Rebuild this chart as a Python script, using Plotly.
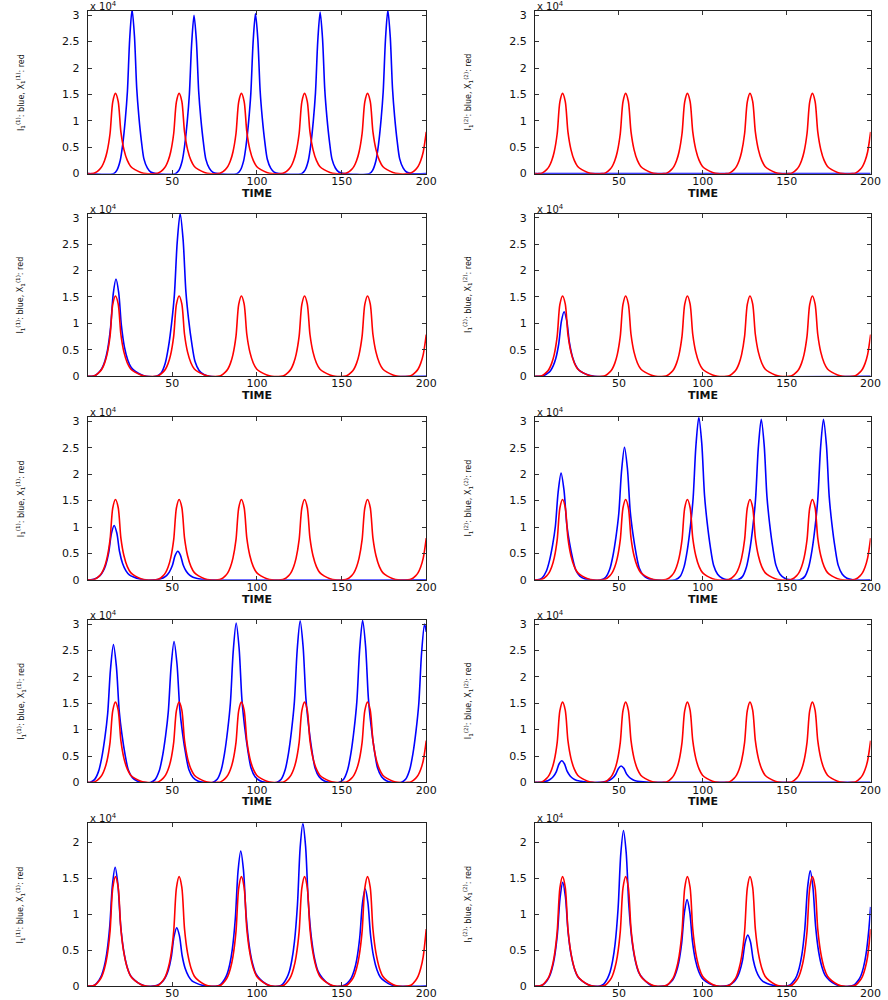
import plotly.graph_objects as go
from plotly.subplots import make_subplots

# tick positions / labels (y values are plotted raw, labelled in units of 10^4)
X_TICKS = [50, 100, 150, 200]
Y_TICKS = [0, 5000, 10000, 15000, 20000, 25000, 30000]
Y_TICK_TEXT = ['0', '0.5', '1', '1.5', '2', '2.5', '3']
Y_TOP = [30800, 30800, 30800, 30800, 22600]   # top of y axis, one per row
PANEL_INDEX = ['(1)', '(2)']                   # left column, right column

# X_1 (red) - the same in every panel
red_t = [0,
         2.4, 4.4, 6.9, 8.4, 9.9, 11.4, 13.2, 14.8, 16.4, 18.0, 19.6, 21.4, 23.4, 25.4, 27.9,
         31.4, 34.4,
         40.0, 42.0, 44.5, 46.0, 47.5, 49.0, 50.8, 52.4, 54.0, 55.6, 57.2, 59.0, 61.0, 63.0,
         65.5, 69.0, 72.0,
         76.8, 78.8, 81.3, 82.8, 84.3, 85.8, 87.6, 89.2, 90.8, 92.4, 94.0, 95.8, 97.8, 99.8,
         102.3, 105.8, 108.8,
         114.1, 116.1, 118.6, 120.1, 121.6, 123.1, 124.9, 126.5, 128.1, 129.7, 131.3, 133.1,
         135.1, 137.1, 139.6, 143.1, 146.1,
         151.3, 153.3, 155.8, 157.3, 158.8, 160.3, 162.1, 163.7, 165.3, 166.9, 168.5, 170.3,
         172.3, 174.3, 176.8, 180.3, 183.3,
         189.2, 191.2, 193.7, 195.2, 196.7, 198.2, 200.0]
red_y = [0,
         0, 150, 760, 1370, 2430, 4100, 7600, 13600, 15200, 13700, 7900, 4560, 2510, 1370, 760,
         230, 0,
         0, 150, 760, 1370, 2430, 4100, 7600, 13600, 15200, 13700, 7900, 4560, 2510, 1370, 760,
         230, 0,
         0, 150, 760, 1370, 2430, 4100, 7600, 13600, 15200, 13700, 7900, 4560, 2510, 1370, 760,
         230, 0,
         0, 150, 760, 1370, 2430, 4100, 7600, 13600, 15200, 13700, 7900, 4560, 2510, 1370, 760,
         230, 0,
         0, 150, 760, 1370, 2430, 4100, 7600, 13600, 15200, 13700, 7900, 4560, 2510, 1370, 760,
         230, 0,
         0, 150, 760, 1370, 2430, 4100, 7900]

# I_1 (blue), one pair of lists per panel, row by row
blue1_t = [0,
           15.2, 17.2, 19.2, 20.7, 22.2, 23.45, 24.8, 26.2, 27.6, 28.95, 30.2, 31.7, 33.2, 35.2,
           37.2, 40.2,
           51.8, 53.8, 55.8, 57.3, 58.8, 60.05, 61.4, 62.8, 64.2, 65.55, 66.8, 68.3, 69.8, 71.8,
           73.8, 76.8,
           88.1, 90.1, 92.1, 93.6, 95.1, 96.35, 97.7, 99.1, 100.5, 101.85, 103.1, 104.6, 106.1,
           108.1, 110.1, 113.1,
           126.3, 128.3, 130.3, 131.8, 133.3, 134.55, 135.9, 137.3, 138.7, 140.05, 141.3, 142.8,
           144.3, 146.3, 148.3, 151.3,
           166.3, 168.3, 170.3, 171.8, 173.3, 174.55, 175.9, 177.3, 178.7, 180.05, 181.3, 182.8,
           184.3, 186.3, 188.3, 191.3,
           200.0]
blue1_y = [0,
           0, 620, 2490, 5600, 10260, 15550, 25500, 31100, 26120, 16170, 10890, 6220, 2800, 1090,
           310, 0,
           0, 600, 2400, 5400, 9900, 15000, 24600, 30000, 25200, 15600, 10500, 6000, 2700, 1050,
           300, 0,
           0, 610, 2420, 5450, 10000, 15150, 24850, 30300, 25450, 15760, 10610, 6060, 2730, 1060,
           300, 0,
           0, 610, 2450, 5510, 10100, 15300, 25090, 30600, 25700, 15910, 10710, 6120, 2750, 1070,
           310, 0,
           0, 620, 2480, 5580, 10230, 15500, 25420, 31000, 26040, 16120, 10850, 6200, 2790, 1090,
           310, 0,
           0]

blue2_t = [0, 200.0]
blue2_y = [0, 0]

blue3_t = [0,
           2.7, 4.7, 7.2, 8.7, 10.2, 11.7, 13.5, 15.1, 16.7, 18.3, 19.9, 21.7, 23.7, 25.7, 28.2,
           31.7, 34.7,
           40.6, 43.4, 45.8, 47.7, 49.6, 51.2, 52.85, 54.6, 56.35, 58.0, 59.6, 61.5, 63.4, 65.8,
           68.6, 72.1,
           200.0]
blue3_y = [0,
           0, 180, 920, 1660, 2940, 4970, 9200, 15640, 18400, 15820, 9570, 5520, 3040, 1660, 920,
           280, 0,
           0, 620, 2460, 5540, 10160, 15400, 25260, 30800, 25870, 16020, 10780, 6160, 2770, 1080,
           310, 0,
           0]

blue4_t = [0,
           3.3, 5.3, 7.8, 9.3, 10.8, 12.3, 14.1, 15.7, 17.3, 18.9, 20.5, 22.3, 24.3, 26.3, 28.8,
           32.3, 35.3,
           200.0]
blue4_y = [0,
           0, 120, 610, 1100, 1950, 3290, 6100, 10370, 12200, 10490, 6340, 3660, 2010, 1100, 610,
           180, 0,
           0]

blue5_t = [0,
           1.6, 3.6, 6.1, 7.6, 9.1, 10.6, 12.4, 14.0, 15.6, 17.2, 18.8, 20.6, 22.6, 24.6, 27.1,
           30.6, 33.6,
           39.2, 41.2, 43.7, 45.2, 46.7, 48.2, 50.0, 51.6, 53.2, 54.8, 56.4, 58.2, 60.2, 62.2,
           64.7, 68.2, 71.2,
           200.0]
blue5_y = [0,
           0, 100, 520, 930, 1650, 2780, 5150, 8760, 10300, 8860, 5360, 3090, 1700, 930, 520,
           150, 0,
           0, 50, 270, 490, 860, 1460, 2700, 4590, 5400, 4640, 2810, 1620, 890, 490, 270, 80, 0,
           0]

blue6_t = [0,
           1.5, 4.3, 6.7, 8.6, 10.5, 12.1, 13.75, 15.5, 17.25, 18.9, 20.5, 22.4, 24.3, 26.7, 29.5,
           33.0,
           39.3, 42.1, 44.5, 46.4, 48.3, 49.9, 51.55, 53.3, 55.05, 56.7, 58.3, 60.2, 62.1, 64.5,
           67.3, 70.8,
           83.6, 86.4, 88.8, 90.7, 92.6, 94.2, 95.85, 97.6, 99.35, 101.0, 102.6, 104.5, 106.4,
           108.8, 111.6, 115.1,
           120.8, 123.6, 126.0, 127.9, 129.8, 131.4, 133.05, 134.8, 136.55, 138.2, 139.8, 141.7,
           143.6, 146.0, 148.8, 152.3,
           157.9, 160.7, 163.1, 165.0, 166.9, 168.5, 170.15, 171.9, 173.65, 175.3, 176.9, 178.8,
           180.7, 183.1, 185.9, 189.4,
           200.0]
blue6_y = [0,
           0, 400, 1620, 3640, 6670, 10100, 16560, 20200, 16970, 10500, 7070, 4040, 1820, 710,
           200, 0,
           0, 500, 2010, 4520, 8280, 12550, 20580, 25100, 21080, 13050, 8790, 5020, 2260, 880,
           250, 0,
           0, 620, 2460, 5540, 10160, 15400, 25260, 30800, 25870, 16020, 10780, 6160, 2770, 1080,
           310, 0,
           0, 610, 2430, 5470, 10030, 15200, 24930, 30400, 25540, 15810, 10640, 6080, 2740, 1060,
           300, 0,
           0, 610, 2430, 5470, 10030, 15200, 24930, 30400, 25540, 15810, 10640, 6080, 2740, 1060,
           300, 0,
           0]

blue7_t = [0,
           1.2, 4.0, 6.4, 8.3, 10.2, 11.8, 13.45, 15.2, 16.95, 18.6, 20.2, 22.1, 24.0, 26.4, 29.2,
           32.7,
           37.0, 39.8, 42.2, 44.1, 46.0, 47.6, 49.25, 51.0, 52.75, 54.4, 56.0, 57.9, 59.8, 62.2,
           65.0, 68.5,
           73.7, 76.5, 78.9, 80.8, 82.7, 84.3, 85.95, 87.7, 89.45, 91.1, 92.7, 94.6, 96.5, 98.9,
           101.7, 105.2,
           111.5, 114.3, 116.7, 118.6, 120.5, 122.1, 123.75, 125.5, 127.25, 128.9, 130.5, 132.4,
           134.3, 136.7, 139.5, 143.0,
           148.4, 151.2, 153.6, 155.5, 157.4, 159.0, 160.65, 162.4, 164.15, 165.8, 167.4, 169.3,
           171.2, 173.6, 176.4, 179.9,
           185.0, 187.8, 190.2, 192.1, 194.0, 195.6, 197.25, 199.0, 200.0]
blue7_y = [0,
           0, 520, 2090, 4700, 8610, 13050, 21400, 26100, 21920, 13570, 9140, 5220, 2350, 910,
           260, 0,
           0, 530, 2140, 4810, 8810, 13350, 21890, 26700, 22430, 13880, 9350, 5340, 2400, 930,
           270, 0,
           0, 600, 2420, 5440, 9970, 15100, 24760, 30200, 25370, 15700, 10570, 6040, 2720, 1060,
           300, 0,
           0, 610, 2450, 5510, 10100, 15300, 25090, 30600, 25700, 15910, 10710, 6120, 2750, 1070,
           310, 0,
           0, 610, 2460, 5530, 10130, 15350, 25170, 30700, 25790, 15960, 10750, 6140, 2760, 1070,
           310, 0,
           0, 600, 2400, 5400, 9900, 15000, 24600, 30000, 28500]

blue8_t = [0,
           1.9, 3.9, 6.4, 7.9, 9.4, 10.9, 12.7, 14.3, 15.9, 17.5, 19.1, 20.9, 22.9, 24.9, 27.4,
           30.9, 33.9,
           37.3, 39.3, 41.8, 43.3, 44.8, 46.3, 48.1, 49.7, 51.3, 52.9, 54.5, 56.3, 58.3, 60.3,
           62.8, 66.3, 69.3,
           200.0]
blue8_y = [0,
           0, 40, 210, 370, 660, 1110, 2050, 3490, 4100, 3530, 2130, 1230, 680, 370, 210, 60, 0,
           0, 30, 160, 280, 500, 840, 1550, 2640, 3100, 2670, 1610, 930, 510, 280, 160, 50, 0,
           0]

blue9_t = [0,
           2.2, 4.2, 6.7, 8.2, 9.7, 11.2, 13.0, 14.6, 16.2, 17.8, 19.4, 21.2, 23.2, 25.2, 27.7,
           31.2, 34.2,
           38.6, 40.6, 43.1, 44.6, 46.1, 47.6, 49.4, 51.0, 52.6, 54.2, 55.8, 57.6, 59.6, 61.6,
           64.1, 67.6, 70.6,
           76.4, 78.4, 80.9, 82.4, 83.9, 85.4, 87.2, 88.8, 90.4, 92.0, 93.6, 95.4, 97.4, 99.4,
           101.9, 105.4, 108.4,
           113.1, 115.1, 117.6, 119.1, 120.6, 122.1, 123.9, 125.5, 127.1, 128.7, 130.3, 132.1,
           134.1, 136.1, 138.6, 142.1, 145.1,
           149.9, 151.9, 154.4, 155.9, 157.4, 158.9, 160.7, 162.3, 163.9, 165.5, 167.1, 168.9,
           170.9, 172.9, 175.4, 178.9, 181.9,
           200.0]
blue9_y = [0,
           0, 170, 830, 1490, 2640, 4460, 8250, 14030, 16500, 14190, 8580, 4950, 2720, 1490, 830,
           250, 0,
           0, 80, 410, 730, 1300, 2190, 4050, 6890, 8100, 6970, 4210, 2430, 1340, 730, 410, 120, 0,
           0, 190, 940, 1690, 3000, 5060, 9380, 15940, 18750, 16130, 9750, 5630, 3090, 1690, 940,
           280, 0,
           0, 230, 1130, 2030, 3620, 6100, 11300, 19210, 22600, 19440, 11750, 6780, 3730, 2030,
           1130, 340, 0,
           0, 140, 680, 1220, 2160, 3650, 6750, 11480, 13500, 11610, 7020, 4050, 2230, 1220, 680,
           200, 0,
           0]

blue10_t = [0,
            2.5, 4.5, 7.0, 8.5, 10.0, 11.5, 13.3, 14.9, 16.5, 18.1, 19.7, 21.5, 23.5, 25.5, 28.0,
            31.5, 34.5,
            38.7, 40.7, 43.2, 44.7, 46.2, 47.7, 49.5, 51.1, 52.7, 54.3, 55.9, 57.7, 59.7, 61.7,
            64.2, 67.7, 70.7,
            76.6, 78.6, 81.1, 82.6, 84.1, 85.6, 87.4, 89.0, 90.6, 92.2, 93.8, 95.6, 97.6, 99.6,
            102.1, 105.6, 108.6,
            112.8, 114.8, 117.3, 118.8, 120.3, 121.8, 123.6, 125.2, 126.8, 128.4, 130.0, 131.8,
            133.8, 135.8, 138.3, 141.8, 144.8,
            150.0, 152.0, 154.5, 156.0, 157.5, 159.0, 160.8, 162.4, 164.0, 165.6, 167.2, 169.0,
            171.0, 173.0, 175.5, 179.0, 182.0,
            188.2, 190.2, 192.7, 194.2, 195.7, 197.2, 199.0, 200.0]
blue10_y = [0,
            0, 140, 720, 1300, 2300, 3890, 7200, 12240, 14400, 12380, 7490, 4320, 2380, 1300, 720,
            220, 0,
            0, 220, 1080, 1940, 3460, 5830, 10800, 18360, 21600, 18580, 11230, 6480, 3560, 1940,
            1080, 320, 0,
            0, 120, 600, 1080, 1920, 3240, 6000, 10200, 12000, 10320, 6240, 3600, 1980, 1080, 600,
            180, 0,
            0, 70, 360, 640, 1140, 1920, 3550, 6040, 7100, 6110, 3690, 2130, 1170, 640, 360, 110, 0,
            0, 160, 800, 1440, 2560, 4320, 8000, 13600, 16000, 13760, 8320, 4800, 2640, 1440, 800,
            240, 0,
            0, 160, 800, 1440, 2560, 4320, 8000, 11000]

BLUE = [(blue1_t, blue1_y), (blue2_t, blue2_y), (blue3_t, blue3_y), (blue4_t, blue4_y),
        (blue5_t, blue5_y), (blue6_t, blue6_y), (blue7_t, blue7_y), (blue8_t, blue8_y),
        (blue9_t, blue9_y), (blue10_t, blue10_y)]

# where the ten boxes sit on the page
X_DOMAINS = [[0.0999, 0.4855], [0.6094, 0.9916]]
Y_DOMAINS = [[0.8268, 0.9909], [0.6224, 0.7865], [0.4169, 0.5811], [0.2125, 0.3766],
             [0.0070, 0.1712]]

FONT = 'DejaVu Sans'
LINE = dict(width=1.6, shape='spline', smoothing=0.8)

fig = make_subplots(rows=5, cols=2)

for k, (bt, by) in enumerate(BLUE):
    row, col = k // 2 + 1, k % 2 + 1
    fig.add_trace(go.Scatter(x=bt, y=by, mode='lines', showlegend=False,
                             line=dict(color='#0000ff', **LINE)),
                  row=row, col=col)
    fig.add_trace(go.Scatter(x=red_t, y=red_y, mode='lines', showlegend=False,
                             line=dict(color='#ff0000', **LINE)),
                  row=row, col=col)

annotations = []
for k in range(10):
    r, c = divmod(k, 2)
    n = '' if k == 0 else str(k + 1)
    top = Y_TOP[r]
    ticks = [v for v in Y_TICKS if v <= top]
    fig.layout['xaxis' + n].update(
        domain=X_DOMAINS[c], range=[0, 200], tickvals=X_TICKS, ticklabelstandoff=-3,
        ticks='inside', ticklen=4, tickcolor='#333', mirror='ticks',
        showline=True, linecolor='#222', linewidth=1, showgrid=False, zeroline=False,
        tickfont=dict(family=FONT, size=11, color='#111'))
    fig.layout['yaxis' + n].update(
        domain=Y_DOMAINS[r], range=[0, top], tickvals=ticks,
        ticktext=Y_TICK_TEXT[:len(ticks)], ticklabelstandoff=5,
        ticks='inside', ticklen=4, tickcolor='#333', mirror='ticks',
        showline=True, linecolor='#222', linewidth=1, showgrid=False, zeroline=False,
        tickfont=dict(family=FONT, size=11, color='#111'))

    xref, yref = f'x{n} domain', f'y{n} domain'
    idx = PANEL_INDEX[c]
    annotations.append(dict(
        xref=xref, yref=yref, x=0, y=1, xanchor='left', yanchor='bottom',
        text='x 10<sup>4</sup>', showarrow=False, yshift=-3,
        font=dict(family=FONT, size=10, color='#111')))
    annotations.append(dict(
        xref=xref, yref=yref, x=0.5, y=0, xanchor='center', yanchor='top',
        text='<b>TIME</b>', showarrow=False, yshift=-11,
        font=dict(family=FONT, size=11, color='#111')))
    annotations.append(dict(
        xref=xref, yref=yref, x=0, y=0.5, xanchor='center', yanchor='middle',
        textangle=-90, xshift=-67, showarrow=False,
        text=f'I<sub>1</sub><sup>{idx}</sup>: blue, X<sub>1</sub><sup>{idx}</sup>: red',
        font=dict(family=FONT, size=8, color='#111')))

fig.update_layout(width=888, height=1000, margin=dict(l=0, r=0, t=0, b=0),
                  paper_bgcolor='white', plot_bgcolor='white',
                  annotations=annotations, showlegend=False)

fig.write_html('out.html', config={'displayModeBar': False},
               post_script="document.body.style.margin='0px';"
                           "document.documentElement.style.overflow='hidden';")
